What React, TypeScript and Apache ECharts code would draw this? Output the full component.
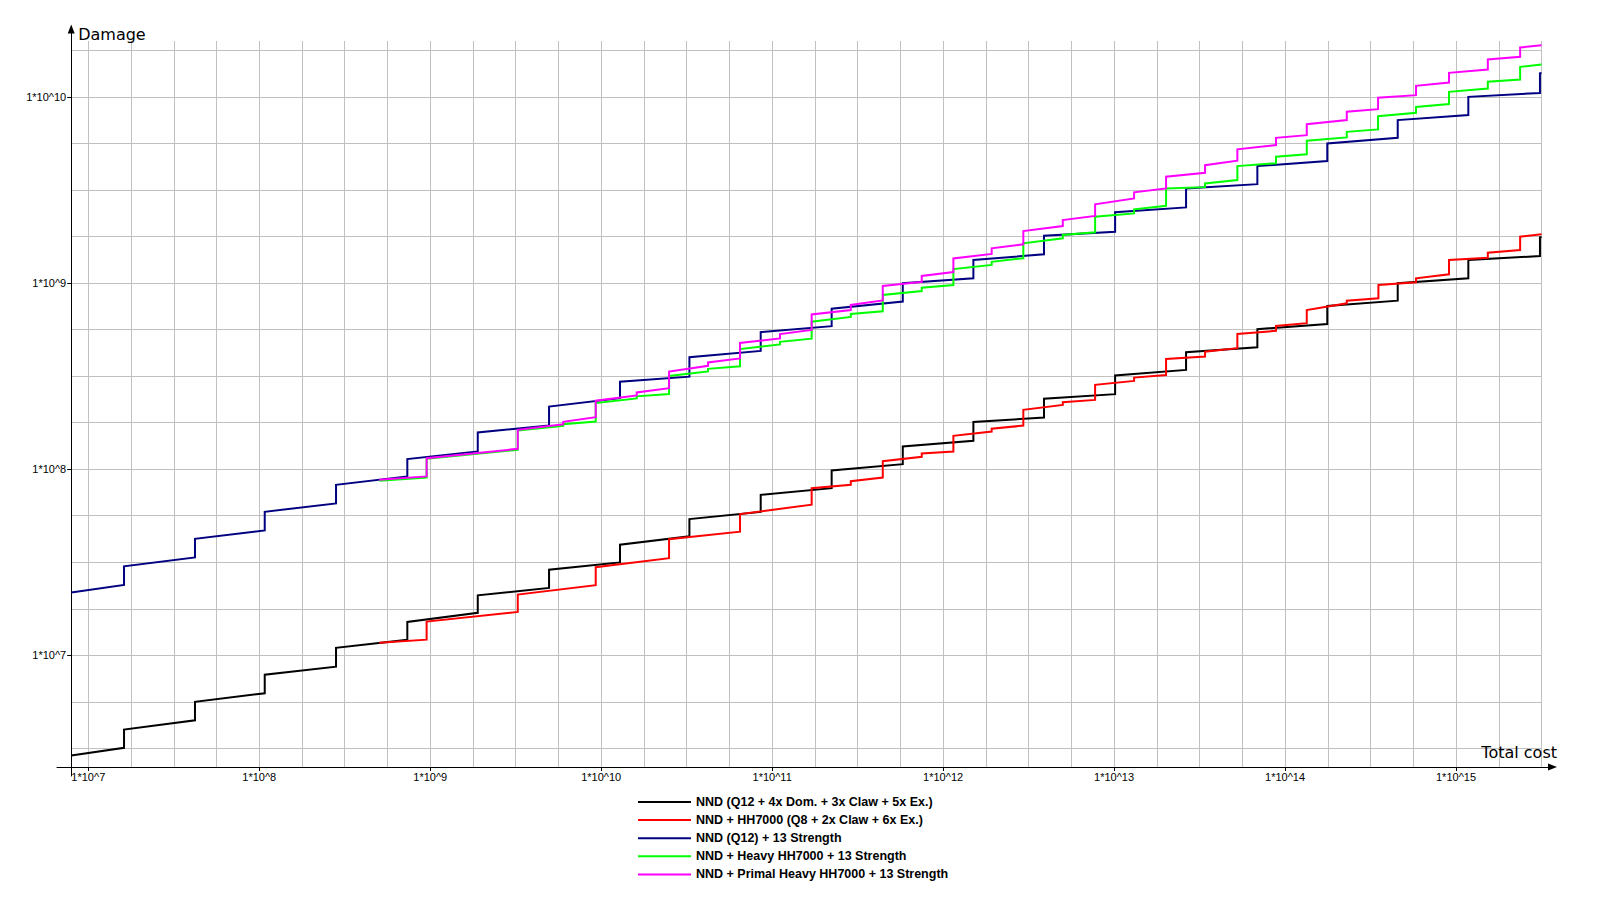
import { useEffect, useRef } from "react";
import * as echarts from "echarts";

// Values are stored as exponents: [log10(Total cost), log10(Damage)]
const seriesNames = [
  "NND (Q12 + 4x Dom. + 3x Claw + 5x Ex.)",
  "NND + HH7000 (Q8 + 2x Claw + 6x Ex.)",
  "NND (Q12) + 13 Strength",
  "NND + Heavy HH7000 + 13 Strength",
  "NND + Primal Heavy HH7000 + 13 Strength",
];
const seriesColors = ["#000000", "#ff0000", "#000080", "#00ff00", "#ff00ff"];

const xRange = [6.9, 15.5];
const yRange = [6.4, 10.3];
const xDecades = [7, 8, 9, 10, 11, 12, 13, 14, 15];
const yDecades = [7, 8, 9, 10];

const blackPts = [
  [6.9, 6.462], [7.209, 6.503], [7.209, 6.601], [7.624, 6.651], [7.624, 6.75], [8.032, 6.796], [8.032, 6.896],
  [8.449, 6.939], [8.449, 7.04], [8.866, 7.083], [8.866, 7.179], [9.278, 7.228], [9.278, 7.322], [9.695, 7.362],
  [9.695, 7.46], [10.11, 7.499], [10.11, 7.594], [10.516, 7.639], [10.516, 7.732], [10.933, 7.77], [10.933, 7.862],
  [11.348, 7.898], [11.348, 7.993], [11.764, 8.027], [11.764, 8.122], [12.177, 8.152], [12.177, 8.253], [12.59, 8.277],
  [12.59, 8.378], [13.006, 8.403], [13.006, 8.503], [13.421, 8.533], [13.421, 8.628], [13.838, 8.655], [13.838, 8.752],
  [14.247, 8.78], [14.247, 8.877], [14.659, 8.905], [14.659, 8.999], [15.072, 9.025], [15.072, 9.124], [15.491, 9.145],
  [15.491, 9.245], [15.5, 9.247],
];

const redPts = [
  [8.702, 7.068], [8.979, 7.084], [8.979, 7.181], [9.512, 7.233], [9.512, 7.326], [9.968, 7.377], [9.968, 7.473],
  [10.397, 7.522], [10.397, 7.624], [10.812, 7.664], [10.812, 7.759], [11.231, 7.809], [11.231, 7.898], [11.46, 7.916],
  [11.46, 7.935], [11.647, 7.955], [11.647, 8.043], [11.875, 8.066], [11.875, 8.084], [12.06, 8.095], [12.06, 8.179],
  [12.284, 8.202], [12.284, 8.217], [12.469, 8.234], [12.469, 8.319], [12.7, 8.345], [12.7, 8.36], [12.889, 8.372],
  [12.889, 8.453], [13.117, 8.474], [13.117, 8.492], [13.304, 8.506], [13.304, 8.592], [13.532, 8.605], [13.532, 8.631],
  [13.721, 8.65], [13.721, 8.726], [13.947, 8.743], [13.947, 8.769], [14.127, 8.784], [14.127, 8.855], [14.361, 8.891],
  [14.361, 8.905], [14.546, 8.918], [14.546, 8.989], [14.766, 9.004], [14.766, 9.025], [14.959, 9.047], [14.959, 9.124],
  [15.186, 9.136], [15.186, 9.163], [15.375, 9.177], [15.375, 9.249], [15.5, 9.262],
];

const bluePts = [
  [6.9, 7.338], [7.209, 7.378], [7.209, 7.478], [7.624, 7.526], [7.624, 7.626], [8.032, 7.671], [8.032, 7.771],
  [8.449, 7.816], [8.449, 7.916], [8.866, 7.961], [8.866, 8.054], [9.278, 8.095], [9.278, 8.197], [9.695, 8.234],
  [9.695, 8.336], [10.11, 8.381], [10.11, 8.47], [10.516, 8.497], [10.516, 8.601], [10.933, 8.635], [10.933, 8.736],
  [11.348, 8.768], [11.348, 8.862], [11.764, 8.9], [11.764, 8.999], [12.177, 9.025], [12.177, 9.124], [12.59, 9.154],
  [12.59, 9.254], [13.006, 9.275], [13.006, 9.38], [13.421, 9.406], [13.421, 9.508], [13.838, 9.531], [13.838, 9.628],
  [14.247, 9.655], [14.247, 9.75], [14.659, 9.78], [14.659, 9.875], [15.072, 9.902], [15.072, 10.0], [15.491, 10.021],
  [15.491, 10.126], [15.5, 10.128],
];

const greenPts = [
  [8.702, 7.938], [8.979, 7.955], [8.979, 8.056], [9.512, 8.104], [9.512, 8.207], [9.778, 8.233], [9.778, 8.241],
  [9.968, 8.256], [9.968, 8.355], [10.208, 8.38], [10.208, 8.391], [10.397, 8.404], [10.397, 8.501], [10.625, 8.525],
  [10.625, 8.539], [10.812, 8.553], [10.812, 8.645], [11.046, 8.67], [11.046, 8.684], [11.231, 8.701], [11.231, 8.792],
  [11.46, 8.818], [11.46, 8.834], [11.647, 8.848], [11.647, 8.936], [11.875, 8.957], [11.875, 8.975], [12.06, 8.989],
  [12.06, 9.075], [12.284, 9.097], [12.284, 9.114], [12.469, 9.133], [12.469, 9.213], [12.7, 9.24], [12.7, 9.258],
  [12.889, 9.272], [12.889, 9.356], [13.117, 9.374], [13.117, 9.396], [13.304, 9.415], [13.304, 9.508], [13.532, 9.515],
  [13.532, 9.535], [13.721, 9.553], [13.721, 9.628], [13.947, 9.643], [13.947, 9.678], [14.127, 9.691], [14.127, 9.764],
  [14.361, 9.782], [14.361, 9.812], [14.544, 9.825], [14.544, 9.896], [14.766, 9.914], [14.766, 9.946], [14.959, 9.961],
  [14.959, 10.027], [15.186, 10.045], [15.186, 10.081], [15.375, 10.093], [15.375, 10.161], [15.5, 10.174],
];

const magentaPts = [
  [8.702, 7.943], [8.979, 7.961], [8.979, 8.059], [9.512, 8.109], [9.512, 8.211], [9.778, 8.241], [9.778, 8.254],
  [9.968, 8.279], [9.968, 8.368], [10.208, 8.396], [10.208, 8.412], [10.397, 8.435], [10.397, 8.524], [10.625, 8.555],
  [10.625, 8.573], [10.812, 8.595], [10.812, 8.678], [11.046, 8.702], [11.046, 8.726], [11.231, 8.748], [11.231, 8.831],
  [11.46, 8.855], [11.46, 8.882], [11.647, 8.906], [11.647, 8.984], [11.875, 9.006], [11.875, 9.038], [12.06, 9.059],
  [12.06, 9.132], [12.284, 9.156], [12.284, 9.186], [12.469, 9.208], [12.469, 9.279], [12.7, 9.306], [12.7, 9.338],
  [12.889, 9.36], [12.889, 9.423], [13.117, 9.454], [13.117, 9.487], [13.304, 9.508], [13.304, 9.571], [13.532, 9.592],
  [13.532, 9.633], [13.721, 9.657], [13.721, 9.718], [13.947, 9.741], [13.947, 9.78], [14.127, 9.794], [14.127, 9.853],
  [14.361, 9.875], [14.361, 9.92], [14.544, 9.934], [14.544, 9.995], [14.766, 10.009], [14.766, 10.059], [14.959, 10.077],
  [14.959, 10.129], [15.186, 10.147], [15.186, 10.201], [15.375, 10.215], [15.375, 10.265], [15.5, 10.277],
];

const tickFont = { fontFamily: "Liberation Sans, Arial, sans-serif", fontSize: 11, color: "#000000" };
const nameFont = { fontFamily: "DejaVu Sans, sans-serif", fontSize: 16, color: "#000000" };

function decadeLabel(v: number): string {
  const r = Math.round(v);
  return Math.abs(v - r) < 1e-6 ? `1*10^${r}` : "";
}

export default function App() {
  const ref = useRef<HTMLDivElement>(null);

  useEffect(() => {
    if (!ref.current) return;
    const chart = echarts.init(ref.current, null, { renderer: "svg" });
    const allPts = [blackPts, redPts, bluePts, greenPts, magentaPts];
    const hidden = { show: false };

    chart.setOption({
      animation: false,
      backgroundColor: "#ffffff",
      textStyle: { fontFamily: "Liberation Sans, Arial, sans-serif" },
      grid: [
        { left: 71.2, right: 58.5, top: 41, bottom: 133, containLabel: false, outerBoundsMode: "none" },
        { left: 71.2, right: 58.5, top: 33, bottom: 124, containLabel: false, outerBoundsMode: "none" },
        { left: 57, right: 52, top: 41, bottom: 133, containLabel: false, outerBoundsMode: "none" },
      ],
      xAxis: [
        {
          gridIndex: 0, type: "value", position: "bottom", min: xRange[0], max: xRange[1],
          minInterval: 0.25, maxInterval: 0.25,
          axisLine: { show: false, onZero: false }, axisTick: hidden, axisLabel: hidden,
          splitLine: { show: true, showMinLine: false, lineStyle: { color: "#c0c0c0", width: 1 } },
        },
        {
          gridIndex: 0, type: "value", position: "bottom", min: xRange[0], max: xRange[1],
          minInterval: 1, maxInterval: 1,
          axisLine: { show: false, onZero: false },
          axisTick: { show: true, length: 4, customValues: xDecades, lineStyle: { color: "#000000", width: 1 } },
          axisLabel: { show: true, customValues: xDecades, margin: 4, formatter: decadeLabel, ...tickFont },
          splitLine: hidden,
          name: "Total cost", nameLocation: "end", nameGap: 15.5, nameMoveOverlap: false,
          nameTextStyle: { ...nameFont, align: "right", verticalAlign: "bottom", padding: [0, 0, 7, 0] },
        },
        { gridIndex: 1, type: "value", min: 0, max: 1, show: false },
        {
          gridIndex: 2, type: "value", position: "bottom", min: 0, max: 1,
          axisLine: {
            show: true, onZero: false, symbol: ["none", "triangle"], symbolSize: [7, 9], symbolOffset: [0, 4.5],
            lineStyle: { color: "#000000", width: 1 },
          },
          axisTick: hidden, axisLabel: hidden, splitLine: hidden,
        },
      ],
      yAxis: [
        {
          gridIndex: 0, type: "value", position: "left", min: yRange[0], max: yRange[1],
          minInterval: 0.25, maxInterval: 0.25,
          axisLine: { show: false, onZero: false }, axisTick: hidden, axisLabel: hidden,
          splitLine: { show: true, showMinLine: false, showMaxLine: false, lineStyle: { color: "#c0c0c0", width: 1 } },
        },
        {
          gridIndex: 0, type: "value", position: "left", min: yRange[0], max: yRange[1],
          minInterval: 1, maxInterval: 1,
          axisLine: { show: false, onZero: false },
          axisTick: { show: true, length: 4, customValues: yDecades, lineStyle: { color: "#000000", width: 1 } },
          axisLabel: { show: true, customValues: yDecades, margin: 5, formatter: decadeLabel, ...tickFont },
          splitLine: hidden,
          name: "Damage", nameLocation: "end", nameGap: -1, nameMoveOverlap: false,
          nameTextStyle: { ...nameFont, align: "left", verticalAlign: "bottom", padding: [0, 0, 0, 7] },
        },
        {
          gridIndex: 1, type: "value", position: "left", min: 0, max: 1,
          axisLine: {
            show: true, onZero: false, symbol: ["none", "triangle"], symbolSize: [7, 9], symbolOffset: [0, 4],
            lineStyle: { color: "#000000", width: 1 },
          },
          axisTick: hidden, axisLabel: hidden, splitLine: hidden,
        },
        { gridIndex: 2, type: "value", min: 0, max: 1, show: false },
      ],
      legend: {
        orient: "vertical", left: 638, top: 795, padding: 0, itemGap: 4.1,
        itemWidth: 53, itemHeight: 2, icon: "rect", selectedMode: false,
        itemStyle: { borderWidth: 0 },
        textStyle: {
          fontFamily: "Liberation Sans, Arial, sans-serif", fontSize: 12.5, fontWeight: "bold",
          color: "#000000", lineHeight: 14,
        },
        data: seriesNames,
      },
      series: allPts.map((pts, i) => ({
        type: "line",
        name: seriesNames[i],
        data: pts,
        xAxisIndex: 0,
        yAxisIndex: 0,
        showSymbol: false,
        symbol: "none",
        silent: true,
        z: 2 + i,
        lineStyle: { color: seriesColors[i], width: 2, join: "miter" },
        itemStyle: { color: seriesColors[i] },
      })),
    });

    return () => chart.dispose();
  }, []);

  return (
    <div
      ref={ref}
      style={{ position: "fixed", left: 0, top: 0, width: 1600, height: 900, background: "#ffffff" }}
    />
  );
}
